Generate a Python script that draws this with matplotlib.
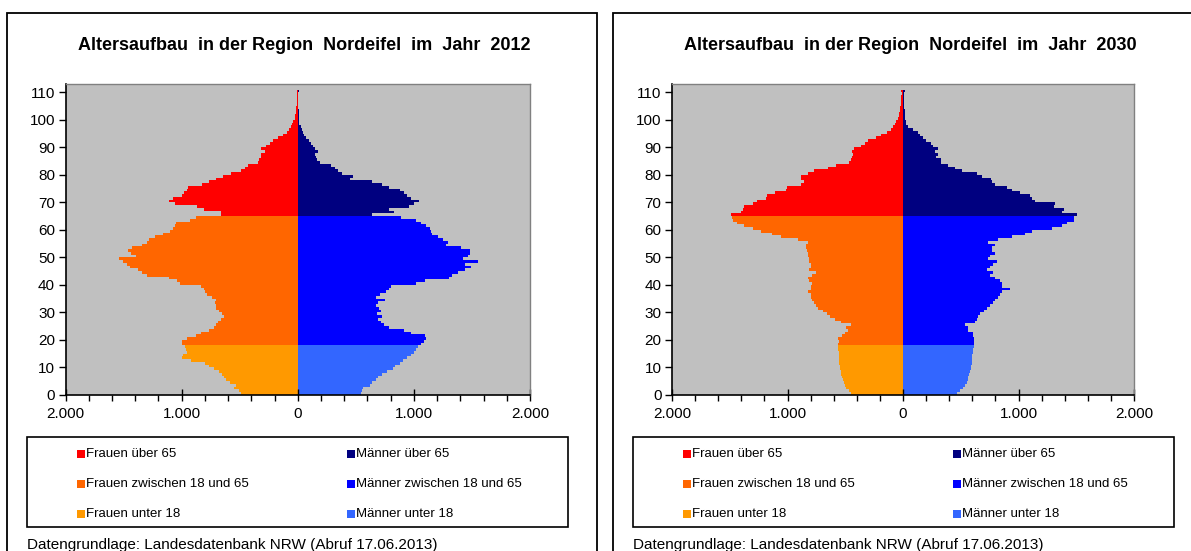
import matplotlib
matplotlib.use("Agg")
import matplotlib.pyplot as plt
from matplotlib.patches import Rectangle
from matplotlib.ticker import MultipleLocator, FuncFormatter

plt.rcParams['font.family'] = ['Liberation Sans', 'DejaVu Sans']

# Einwohner je Altersjahr (0 bis 110), Region Nordeifel
alter = list(range(111))

frauen_2012 = [
    490, 510, 545, 535, 580, 620, 635, 655, 680, 720, 760, 795, 920, 995, 990, 955, 960, 975,
    995, 1000, 950, 880, 835, 760, 720, 700, 690, 660, 635, 650, 680, 700, 705, 710, 705, 740,
    780, 795, 805, 830, 1010, 1040, 1110, 1300, 1340, 1375, 1445, 1470, 1505, 1535, 1390, 1440,
    1460, 1430, 1345, 1300, 1280, 1230, 1160, 1100, 1070, 1060, 1050, 925, 880,
    663, 663, 808, 866, 1055, 1113, 1070, 1000, 983, 953, 944, 822, 760, 706, 642, 575, 488,
    450, 430, 343, 330, 320, 320, 285, 314, 270, 240, 212, 168, 125, 96, 72, 60, 52, 38, 23,
    20, 17, 15, 12, 10, 9, 8, 7, 6, 8]

maenner_2012 = [
    545, 550, 565, 620, 640, 670, 690, 725, 765, 820, 840, 880, 910, 945, 975, 1000, 1020, 1035,
    1060, 1090, 1105, 1100, 975, 915, 790, 740, 715, 695, 725, 685, 720, 700, 670, 695, 755, 670,
    710, 760, 790, 800, 1015, 1100, 1300, 1330, 1380, 1440, 1495, 1440, 1555, 1425, 1465, 1480,
    1485, 1410, 1280, 1295, 1250, 1205, 1160, 1150, 1140, 1105, 1060, 1020, 890,
    640, 828, 785, 959, 1000, 1046, 973, 940, 915, 877, 787, 726, 639, 450, 480, 378, 349,
    320, 290, 188, 170, 160, 145, 174, 145, 131, 115, 101, 72, 58, 45, 35, 25, 14, 12, 10,
    9, 8, 7, 6, 6, 5, 5, 5, 5, 8]

frauen_2030 = [
    450, 470, 490, 505, 515, 520, 530, 535, 540, 543, 545, 550, 551, 552, 555, 558, 560, 563,
    565, 555, 560, 530, 505, 480, 490, 450, 535, 590, 635, 660, 695, 735, 750, 770, 785, 795,
    800, 825, 800, 795, 785, 810, 825, 785, 755, 810, 800, 795, 810, 815, 825, 825, 835, 840,
    840, 826, 905, 1060, 1130, 1230, 1300, 1375, 1440, 1470, 1480,
    1490, 1405, 1385, 1377, 1300, 1261, 1189, 1180, 1110, 1015, 1006, 884, 855, 884, 884, 820,
    769, 652, 580, 464, 450, 443, 435, 443, 421, 363, 330, 304, 232, 189, 137, 102, 85, 73, 61,
    43, 35, 32, 30, 25, 20, 18, 16, 15, 12, 15]

maenner_2030 = [
    470, 490, 520, 540, 550, 560, 565, 572, 578, 585, 590, 594, 597, 600, 601, 603, 607, 612,
    617, 617, 615, 609, 609, 565, 565, 536, 623, 638, 650, 667, 700, 725, 754, 775, 797, 826,
    840, 855, 928, 855, 855, 840, 800, 754, 783, 725, 754, 780, 812, 739, 754, 797, 770, 768,
    797, 739, 826, 942, 1058, 1116, 1290, 1377, 1420, 1478, 1480,
    1507, 1377, 1391, 1304, 1318, 1144, 1120, 1101, 1014, 942, 898, 800, 768, 761, 681, 638,
    507, 449, 390, 333, 333, 290, 304, 275, 304, 261, 246, 203, 174, 150, 130, 87, 43, 30, 28,
    20, 15, 14, 13, 12, 12, 11, 11, 10, 10, 15]

jahre = ['2012', '2030']
gruppen = ['über 65', 'zwischen 18 und 65', 'unter 18']
farben_frauen = ['#FF0000', '#FF6600', '#FF9900']
farben_maenner = ['#000080', '#0000FF', '#3366FF']
quelle = 'Datengrundlage: Landesdatenbank NRW (Abruf 17.06.2013)'

W, H = 1191, 551
fig = plt.figure(figsize=(W / 100, H / 100), dpi=100)


def fx(x):
    return x / W


def fy(y):
    return 1 - y / H


def gruppe(a):
    if a >= 65:
        return 0
    if a >= 18:
        return 1
    return 2


def tausender(v, pos):
    return f'{abs(v):,.0f}'.replace(',', '.')


def rahmen(x0, y0, x1, y1, lw=1.2, color='black'):
    fig.patches.append(Rectangle((fx(x0), fy(y1)), fx(x1) - fx(x0), fy(y0) - fy(y1),
                                 transform=fig.transFigure, fill=False,
                                 lw=lw, ec=color, zorder=5))


def pyramide(px, ax_l, ax_r, jahr, frauen, maenner):
    # Panel-Rahmen
    rahmen(px, 13, px + 590, 560, lw=1.3)

    ax = fig.add_axes([fx(ax_l), fy(395), fx(ax_r) - fx(ax_l), fy(84) - fy(395)])
    ax.set_facecolor('#C0C0C0')
    for g in range(3):
        idx = [a for a in alter if gruppe(a) == g]
        ax.barh(idx, [-frauen[a] for a in idx], height=1, align='edge',
                color=farben_frauen[g], linewidth=0, antialiased=False)
        ax.barh(idx, [maenner[a] for a in idx], height=1, align='edge',
                color=farben_maenner[g], linewidth=0, antialiased=False)

    ax.set_xlim(-2000, 2000)
    ax.set_ylim(0, 113)
    ax.set_xticks([-2000, -1000, 0, 1000, 2000])
    ax.xaxis.set_minor_locator(MultipleLocator(200))
    ax.xaxis.set_major_formatter(FuncFormatter(tausender))
    ax.set_yticks(range(0, 111, 10))
    ax.tick_params(axis='x', which='major', direction='inout', length=8, width=1,
                   labelsize=11, pad=5)
    ax.tick_params(axis='x', which='minor', direction='out', length=4, width=1)
    ax.tick_params(axis='y', direction='out', length=5, width=1, labelsize=11, pad=2.5)
    for s in ['left', 'bottom']:
        ax.spines[s].set_color('black')
        ax.spines[s].set_linewidth(1.2)
    for s in ['top', 'right']:
        ax.spines[s].set_color('#808080')
        ax.spines[s].set_linewidth(1)

    mitte = (ax_l + ax_r) / 2 + 7
    fig.text(fx(mitte), fy(46), 'Altersaufbau  in der Region  Nordeifel  im  Jahr  ' + jahr,
             ha='center', va='center', fontsize=13, fontweight='bold')

    # Legende
    rahmen(px + 20, 437, px + 561, 527, lw=1.2)
    for i, name in enumerate(gruppen):
        yy = 454 + 30 * i
        for dx, farbe, wer in [(70, farben_frauen[i], 'Frauen'),
                               (340, farben_maenner[i], 'Männer')]:
            fig.patches.append(Rectangle((fx(px + dx), fy(yy + 4)), 8 / W, 8 / H,
                                         transform=fig.transFigure, color=farbe,
                                         lw=0, zorder=6))
            fig.text(fx(px + dx + 9), fy(yy), wer + ' ' + name,
                     ha='left', va='center', fontsize=9.5)

    fig.text(fx(px + 20), fy(549), quelle, ha='left', va='baseline', fontsize=11)


pyramide(7, 65.5, 530, jahre[0], frauen_2012, maenner_2012)
pyramide(613, 672, 1134, jahre[1], frauen_2030, maenner_2030)

fig.savefig('out.png', dpi=100)
